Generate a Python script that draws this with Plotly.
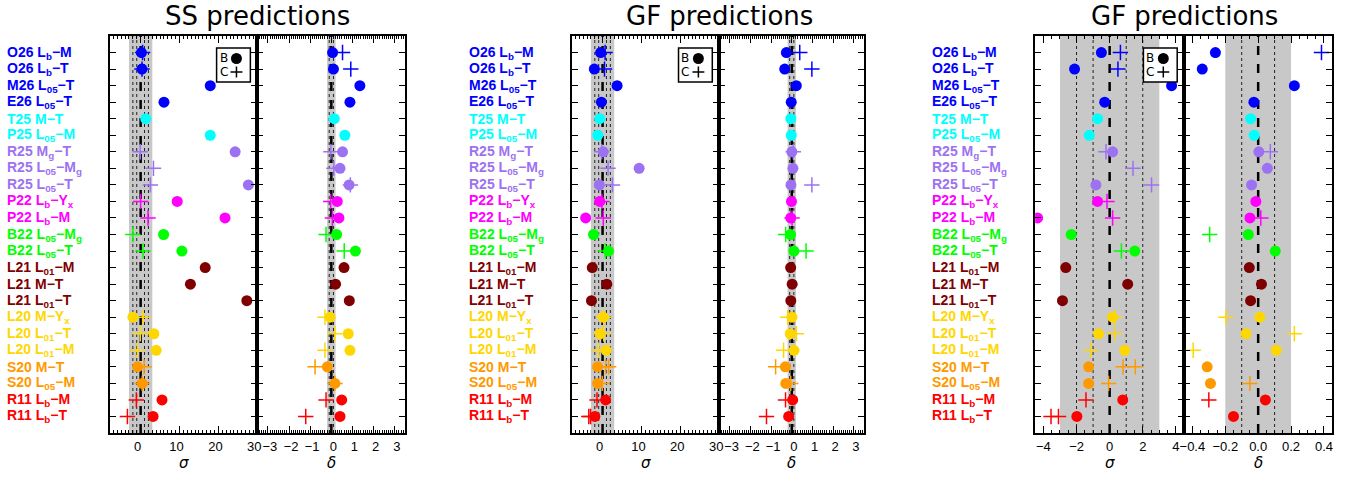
import plotly.graph_objects as go

W, H = 1362, 477

# ---------------- data ----------------
surveys = ["O26", "O26", "M26", "E26", "T25", "P25", "R25", "R25", "R25", "P22", "P22",
           "B22", "B22", "L21", "L21", "L21", "L20", "L20", "L20", "S20", "S20", "R11", "R11"]
relations = ["L<sub>b</sub>−M", "L<sub>b</sub>−T", "L<sub>05</sub>−T", "L<sub>05</sub>−T", "M−T",
             "L<sub>05</sub>−M", "M<sub>g</sub>−T", "L<sub>05</sub>−M<sub>g</sub>", "L<sub>05</sub>−T",
             "L<sub>b</sub>−Y<sub>x</sub>", "L<sub>b</sub>−M", "L<sub>05</sub>−M<sub>g</sub>", "L<sub>05</sub>−T",
             "L<sub>01</sub>−M", "M−T", "L<sub>01</sub>−T", "M−Y<sub>x</sub>", "L<sub>01</sub>−T",
             "L<sub>01</sub>−M", "M−T", "L<sub>05</sub>−M", "L<sub>b</sub>−M", "L<sub>b</sub>−T"]
survey_colors = {"O26": "#0000ff", "M26": "#0000ff", "E26": "#0000ff", "T25": "#00ffff",
                 "P25": "#00ffff", "R25": "#9d72f2", "P22": "#ff00ff", "B22": "#00ff00",
                 "L21": "#7f0000", "L20": "#ffd700", "S20": "#ff9900", "R11": "#ff0000"}

ss_sigma_B = [0.2, 0.35, 17.9, 6.0, 1.3, 17.9, 24.3, None, 27.7, 9.4, 21.7, 5.9, 10.6,
              16.6, 12.8, 27.3, -2.0, 3.4, 4.0, -0.8, 0.4, 5.5, 3.2]
ss_sigma_C = [0.5, 0.35, None, None, None, None, -0.1, 3.3, 2.5, 0.0, 1.9, -2.0, 0.6,
              None, None, None, 0.6, -0.1, -0.8, 0.9, 0.4, -1.1, -3.4]
ss_delta_B = [0.06, 0.1, 1.35, 0.88, 0.14, 0.64, 0.53, 0.41, 0.84, 0.28, 0.36, 0.25, 1.14,
              0.6, 0.2, 0.85, -0.06, 0.8, 0.88, -0.19, 0.17, 0.49, 0.41]
ss_delta_C = [0.53, 0.92, None, None, None, None, -0.02, 0.12, 0.9, -0.03, 0.05, -0.25, 0.61,
              None, None, None, -0.3, 0.17, -0.3, -0.77, 0.17, -0.25, -1.21]

gf_sigma_B = [-0.5, -2.12, 3.74, -0.3, -0.73, -1.23, 0.18, 9.4, -0.83, -0.73, -4.35, -2.32, 1.52,
              -2.65, 1.09, -2.85, 0.18, -0.67, 0.91, -1.27, -1.27, 0.79, -1.98]
gf_sigma_C = [0.65, 0.5, None, None, None, None, -0.22, 1.41, 2.53, -0.16, 0.18, None, 0.71,
              None, None, None, 0.3, 0.3, -1.11, 0.81, -0.06, -1.43, -3.54]
gf_sigma_C2 = [None, None, None, None, None, None, None, None, None, None, None, None, None,
               None, None, None, None, None, None, 1.55, None, None, -3.09]
gf_delta_B = [-0.26, -0.34, 0.22, -0.026, -0.046, -0.024, 0.004, 0.056, -0.04, -0.014, -0.05, -0.06,
              0.104, -0.054, 0.02, -0.046, 0.01, -0.074, 0.11, -0.31, -0.29, 0.044, -0.15]
gf_delta_C = [0.385, 0.97, None, None, None, None, 0.074, None, 0.97, None, 0.016, -0.295, 0.69,
              None, None, None, -0.196, 0.22, -0.395, -0.78, -0.05, -0.30, -1.22]

titles = ["SS predictions", "GF predictions", "GF predictions"]

# ---------------- layout helpers ----------------
rows = list(range(1, len(surveys) + 1))
colors = [survey_colors[s] for s in surveys]
FONT = "DejaVu Sans"
LFONT = "Liberation Sans"


def px_x(p):
    return p / W


def px_y(p):
    return 1 - p / H


Y_TOP, Y_BOT = 36, 433

panels = [
    dict(sB=ss_sigma_B, sC=[ss_sigma_C], dB=ss_delta_B, dC=[ss_delta_C],
         srange=[-7.8, 30], sdt=10, smin=1, drange=[-3.5, 3.5], ddt=1, dmin=0.1,
         shift=(-3, 2), edges=(106, 254, 403)),
    dict(sB=gf_sigma_B, sC=[gf_sigma_C, gf_sigma_C2], dB=gf_delta_B, dC=[gf_delta_C],
         srange=[-7.8, 30], sdt=10, smin=1, drange=[-3.5, 3.5], ddt=1, dmin=0.1,
         shift=(-3, 2), edges=(571, 719, 865)),
    dict(sB=gf_sigma_B, sC=[gf_sigma_C, gf_sigma_C2], dB=gf_delta_B, dC=[gf_delta_C],
         srange=[-4.5, 4.5], sdt=2, smin=0.5, drange=[-0.45, 0.45], ddt=0.2, dmin=0.05,
         shift=(0, 0), edges=(1037, 1187, 1336)),
]

fig = go.Figure()
shapes = []
annotations = []
layout = {}

sub = 0
for pi, P in enumerate(panels):
    l, m, r = P["edges"]
    specs = [
        ("sigma", P["sB"], P["sC"], P["srange"], P["sdt"], P["smin"], 3, [1, 2], (l, m), "<i>σ</i>",
         P["shift"][0]),
        ("delta", P["dB"], P["dC"], P["drange"], P["ddt"], P["dmin"], 0.2, [0.1], (m, r), "<i>δ</i>",
         P["shift"][1]),
    ]
    for kind, B, Cs, rng, dt, mn, band, dots, (a, b), xt, shift in specs:
        sub += 1
        xa = "x" if sub == 1 else f"x{sub}"
        ya = "y" if sub == 1 else f"y{sub}"
        xkey = "xaxis" if sub == 1 else f"xaxis{sub}"
        ykey = "yaxis" if sub == 1 else f"yaxis{sub}"
        layout[xkey] = dict(
            domain=[px_x(a), px_x(b)], range=rng, anchor=ya, showgrid=False, zeroline=False,
            showline=True, linecolor="black", linewidth=2, mirror="ticks",
            ticks="inside", ticklen=7, tickwidth=1, tickcolor="black", dtick=dt, tick0=0,
            minor=dict(ticks="inside", ticklen=3, dtick=mn, tick0=0, tickcolor="black", tickwidth=1),
            tickfont=dict(family=LFONT, size=13, color="black"), tickangle=0,
            ticklabelshift=shift,
            tickformat=".1f" if dt < 1 else "d",
            fixedrange=True,
        )
        layout[ykey] = dict(
            domain=[px_y(Y_BOT), px_y(Y_TOP)], range=[24, 0], anchor=xa, showgrid=False,
            zeroline=False, showline=True, linecolor="black", linewidth=2, mirror="ticks",
            ticks="inside", ticklen=6, tickwidth=1, tickcolor="black",
            tickvals=rows, showticklabels=False, fixedrange=True,
        )
        # grey band
        shapes.append(dict(type="rect", xref=xa, yref=f"{ya} domain", x0=-band, x1=band,
                           y0=0, y1=1, fillcolor="#c8c8c8", line=dict(width=0), layer="below"))
        for d in dots:
            for s in (-1, 1):
                shapes.append(dict(type="line", xref=xa, yref=f"{ya} domain", x0=s * d, x1=s * d,
                                   y0=0, y1=1, line=dict(color="#222222", width=1, dash="dot"),
                                   layer="below"))
        shapes.append(dict(type="line", xref=xa, yref=f"{ya} domain", x0=0, x1=0, y0=0, y1=1,
                           line=dict(color="black", width=2.5, dash="dash"), layer="below"))
        # crosses first, then dots
        for C in Cs:
            fig.add_trace(go.Scatter(
                x=C, y=rows, xaxis=xa, yaxis=ya, mode="markers", showlegend=False,
                marker=dict(symbol="cross-thin", size=11, color=colors,
                            line=dict(color=colors, width=1.5)),
                hoverinfo="skip"))
        fig.add_trace(go.Scatter(
            x=B, y=rows, xaxis=xa, yaxis=ya, mode="markers", showlegend=False,
            marker=dict(symbol="circle", size=11, color=colors, line=dict(width=0)),
            hoverinfo="skip"))
        # axis title
        annotations.append(dict(text=xt, xref=f"{xa} domain", x=0.5, yref="paper", y=px_y(463),
                                showarrow=False, font=dict(family=FONT, size=15, color="black"),
                                xanchor="center", yanchor="middle"))

    # panel title
    annotations.append(dict(text=titles[pi], xref="paper", x=px_x(m), yref="paper", y=px_y(16),
                            showarrow=False, font=dict(family=FONT, size=26, color="black"),
                            xanchor="center", yanchor="middle"))
    # row labels
    ya_sig = "y" if pi == 0 else f"y{2 * pi + 1}"
    for i, (s, rel) in enumerate(zip(surveys, relations)):
        annotations.append(dict(text=f"<b>{s} {rel}</b>", xref="paper", x=px_x(l - 106), yref=ya_sig,
                                y=rows[i], showarrow=False, xanchor="left", yanchor="middle",
                                font=dict(family=LFONT, size=14, color=colors[i])))
    # key box (B = filled circle, C = cross)
    bx1 = m - 7
    bx0 = bx1 - 34
    by0, by1 = 48, 82
    shapes.append(dict(type="rect", xref="paper", yref="paper", x0=px_x(bx0), x1=px_x(bx1),
                       y0=px_y(by1), y1=px_y(by0), line=dict(color="black", width=1.5),
                       fillcolor="white", layer="above"))
    cx = bx0 + 20
    shapes.append(dict(type="circle", xref="paper", yref="paper", x0=px_x(cx - 5.5), x1=px_x(cx + 5.5),
                       y0=px_y(58.5 + 5.5), y1=px_y(58.5 - 5.5), fillcolor="black",
                       line=dict(width=0), layer="above"))
    shapes.append(dict(type="line", xref="paper", yref="paper", x0=px_x(cx - 6), x1=px_x(cx + 6),
                       y0=px_y(72), y1=px_y(72), line=dict(color="black", width=1.5), layer="above"))
    shapes.append(dict(type="line", xref="paper", yref="paper", x0=px_x(cx), x1=px_x(cx),
                       y0=px_y(66.5), y1=px_y(77.5), line=dict(color="black", width=1.5), layer="above"))
    for lab, yy in (("B", 58.5), ("C", 72)):
        annotations.append(dict(text=lab, xref="paper", yref="paper", x=px_x(bx0 + 7), y=px_y(yy),
                                showarrow=False, xanchor="center", yanchor="middle",
                                font=dict(family=FONT, size=12, color="black")))

fig.update_layout(
    width=W, height=H, margin=dict(l=0, r=0, t=0, b=0),
    paper_bgcolor="white", plot_bgcolor="white",
    shapes=shapes, annotations=annotations, **layout,
)

# remove the default page margin so that figure pixels map 1:1 onto the window
fig.write_html("out.html", config={"displayModeBar": False},
               post_script="document.body.style.margin='0px';")
